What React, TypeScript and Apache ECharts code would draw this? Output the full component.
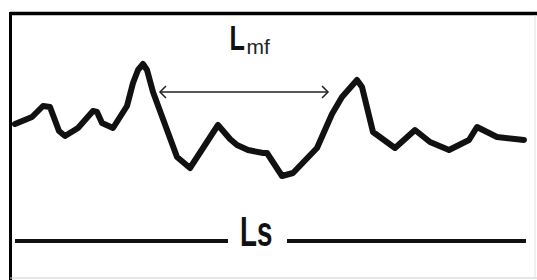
import React, { useEffect, useRef } from "react";
import * as echarts from "echarts";

// Surface profile: horizontal position and height (arbitrary units)
const profileX = [15, 32, 43, 50, 59, 65, 78, 93, 97, 102, 113, 127, 133, 138, 143, 147, 153, 177, 190, 218, 230, 237, 248, 263, 267, 282, 293, 317, 332, 342, 357, 362, 373, 395, 415, 430, 449, 469, 477, 497, 524];
const profileHeight = [156, 163, 174, 173, 149, 144, 152, 169, 168, 157, 152, 174, 197, 210, 216, 210, 188, 123, 112, 155, 141, 135, 130, 127, 127, 104, 107, 132, 166, 183, 200, 193, 148, 132, 150, 138, 130, 140, 153, 143, 140];

const labelMain = "L";
const labelSub = "mf";
const labelLs = "Ls";

export default function App() {
  const ref = useRef<HTMLDivElement>(null);
  useEffect(() => {
    if (!ref.current) return;
    const chart = echarts.init(ref.current, null, { renderer: "svg" });
    const data = profileX.map((x, i) => [x, profileHeight[i]]);
    const ink = "#111";
    chart.setOption({
      animation: false,
      backgroundColor: "#fff",
      grid: { left: 0, right: 0, top: 0, bottom: 0 },
      xAxis: { type: "value", min: 0, max: 537, show: false },
      yAxis: { type: "value", min: 0, max: 280, show: false },
      series: [
        {
          type: "line",
          data,
          symbol: "none",
          lineStyle: { color: ink, width: 6, cap: "round", join: "round" },
          silent: true,
        },
      ],
      graphic: [
        // frame
        { type: "line", shape: { x1: 10, y1: 13.5, x2: 537, y2: 13.5 }, style: { stroke: "#000", lineWidth: 3.5 } },
        { type: "line", shape: { x1: 10.5, y1: 12, x2: 10.5, y2: 280 }, style: { stroke: "#000", lineWidth: 3 } },
        { type: "line", shape: { x1: 10, y1: 278, x2: 537, y2: 278 }, style: { stroke: "#cfcfcf", lineWidth: 1 } },
        { type: "line", shape: { x1: 535, y1: 15, x2: 535, y2: 278 }, style: { stroke: "#e0e0e0", lineWidth: 1 } },
        // arrow
        { type: "line", shape: { x1: 160, y1: 92, x2: 328, y2: 92 }, style: { stroke: "#222", lineWidth: 1.5 } },
        { type: "polyline", shape: { points: [[166, 86], [160, 92], [166, 98]] }, style: { stroke: "#222", lineWidth: 1.5, fill: null } },
        { type: "polyline", shape: { points: [[322, 86], [328, 92], [322, 98]] }, style: { stroke: "#222", lineWidth: 1.5, fill: null } },
        // Lmf label
        {
          type: "text", x: 229.5, y: 37.5, scaleX: 0.7,
          style: { text: labelMain, fontFamily: "Liberation Sans, Arial, sans-serif", fontWeight: "bold", fontSize: 36, fill: ink, align: "left", verticalAlign: "middle" },
        },
        {
          type: "text", x: 246.5, y: 46,
          style: { text: labelSub, fontFamily: "Liberation Sans, Arial, sans-serif", fontSize: 21, fill: "#222", align: "left", verticalAlign: "middle" },
        },
        // Ls lines and label
        { type: "line", shape: { x1: 15, y1: 241, x2: 228, y2: 241 }, style: { stroke: ink, lineWidth: 4 } },
        { type: "line", shape: { x1: 287, y1: 241, x2: 526, y2: 241 }, style: { stroke: ink, lineWidth: 4 } },
        {
          type: "text", x: 240, y: 232, scaleX: 0.66,
          style: { text: labelLs, fontFamily: "Liberation Sans, Arial, sans-serif", fontWeight: "bold", fontSize: 42, fill: ink, align: "left", verticalAlign: "middle" },
        },
      ],
    });
    return () => chart.dispose();
  }, []);
  return (
    <div
      ref={ref}
      style={{ position: "absolute", left: 0, top: 0, width: 537, height: 280, background: "#fff" }}
    />
  );
}
